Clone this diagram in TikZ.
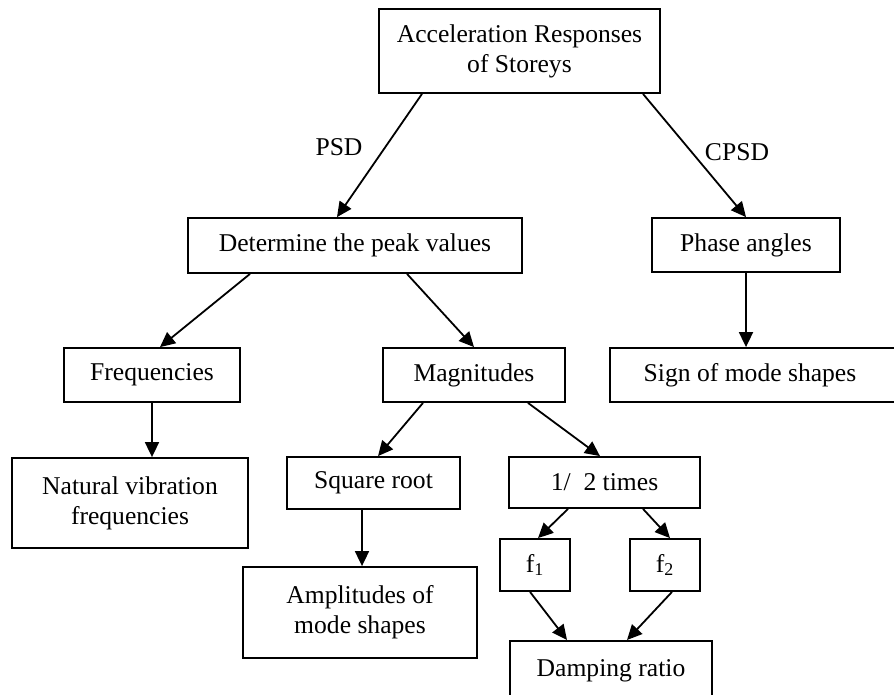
\documentclass[tikz,border=0pt]{standalone}
\usepackage{fontspec}
\setmainfont{Liberation Serif}
\usetikzlibrary{arrows.meta}

\begin{document}
\begin{tikzpicture}[x=0.5pt, y=-0.5pt, line width=0.9pt,
    every node/.style={font=\fontsize{12.8}{15}\selectfont},
    box/.style={draw, align=center, inner sep=0pt},
    link/.style={-{Triangle[length=7.5pt,width=7pt]}}]
        \clip (0,0) rectangle (894,695);
        % boxes
        \node [box, minimum width=140.5pt, minimum height=42pt] (storeys) at (519.5, 51) {Acceleration Responses\\of Storeys};
        \node [box, minimum width=167pt, minimum height=27.5pt] (peak) at (355, 245.5) {Determine the peak values};
        \node [box, minimum width=94pt, minimum height=27pt] (phase) at (746, 245) {Phase angles};
        \node [box, minimum width=88pt, minimum height=27pt] (freq) at (152, 375) {Frequencies};
        \node [box, minimum width=91pt, minimum height=27pt] (magn) at (474, 375) {Magnitudes};
        \node [box, minimum width=146pt, minimum height=27pt] (sign) at (756, 375) {Sign of mode shapes\hspace{6pt}};
        \node [box, minimum width=118pt, minimum height=45pt] (natural) at (130, 503) {Natural vibration\\frequencies};
        \node [box, minimum width=86.5pt, minimum height=26pt] (sqroot) at (373.5, 483) {Square root};
        \node [box, minimum width=95.5pt, minimum height=25.5pt] (half) at (604.5, 482.5) {1/\ \ 2 times};
        \node [box, minimum width=117pt, minimum height=45.5pt] (ampl) at (360, 612.5) {Amplitudes of\\mode shapes};
        \node [box, minimum width=35pt, minimum height=26pt] (fone) at (535, 565) {f\textsubscript{1}};
        \node [box, minimum width=35pt, minimum height=26pt] (ftwo) at (665, 565) {f\textsubscript{2}};
        \node [box, minimum width=101pt, minimum height=30pt, anchor=north] (damp) at (611, 640) {Damping ratio};
        % labels
        \node (psd) at (339, 147) {PSD};
        \node (cpsd) at (737, 152) {CPSD};
        % arrows
        \draw [link] ([xshift=-48.75pt]storeys.south) -- ([xshift=-9pt]peak.north);
        \draw [link] ([xshift=61.75pt]storeys.south) -- (phase.north);
        \draw [link] ([xshift=-52.5pt]peak.south) -- ([xshift=4pt]freq.north);
        \draw [link] ([xshift=26pt]peak.south) -- (magn.north);
        \draw [link] (phase.south) -- (phase.south |- sign.north);
        \draw [link] (freq.south) -- (freq.south |- natural.north);
        \draw [link] ([xshift=-25.5pt]magn.south) -- ([xshift=2.25pt]sqroot.north);
        \draw [link] ([xshift=27pt]magn.south) -- ([xshift=-2.25pt]half.north);
        \draw [link] ([xshift=-5.75pt]sqroot.south) -- ([xshift=-5.75pt]sqroot.south |- ampl.north);
        \draw [link] ([xshift=-18.25pt]half.south) -- ([xshift=1.5pt]fone.north);
        \draw [link] ([xshift=19.25pt]half.south) -- ([xshift=2.5pt]ftwo.north);
        \draw [link] ([xshift=-2.5pt]fone.south) -- ([xshift=-22pt]damp.north);
        \draw [link] ([xshift=3.5pt]ftwo.south) -- ([xshift=8pt]damp.north);
\end{tikzpicture}
\end{document}
